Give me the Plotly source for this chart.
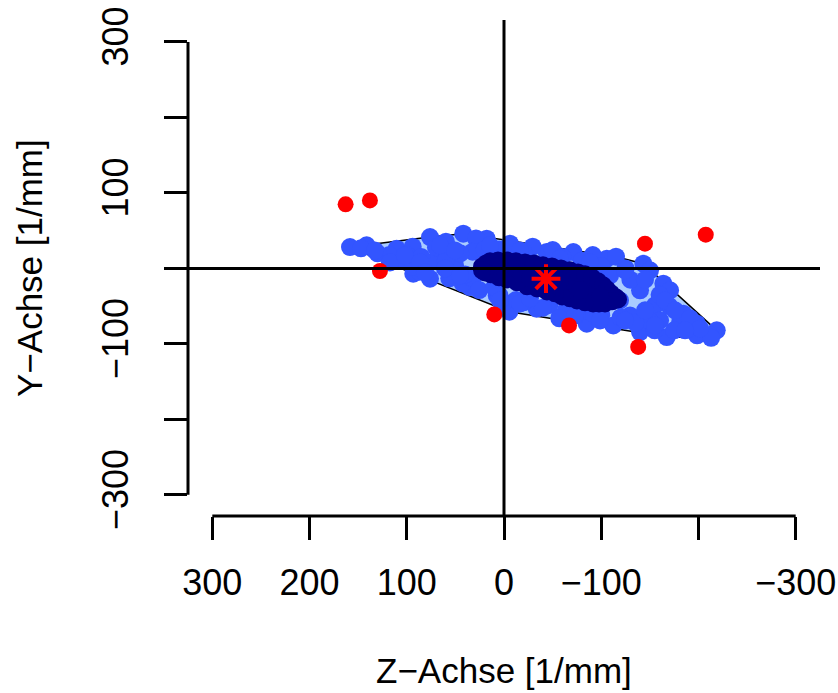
import plotly.graph_objects as go

# Bagplot of curvature components (Z vs Y), values in 1/mm

# points inside the bag (depth region)
bag_z = [22.6, 18.5, 14.4, 6.2, -3.1, -12.3, -21.6, -30.9, -40.1, -49.4,
         -58.6, -67.9, -76.1, -83.3, -90.5, -96.7, -101.9, -106.0, -110.1, -115.2,
         -117.3, -111.1, -103.9, -97.7, -91.6, -83.3, -75.1, -67.9, -59.7, -52.5,
         -44.2, -34.0, -23.7, -13.4, -3.1, 5.1, 13.4, 19.5, 22.6,
         -16.5, -47.3, -78.2, -98.8, -26.7, -57.6, -1.0]
bag_y = [2.6, 6.6, 9.3, 10.6, 10.6, 9.3, 7.9, 6.6, 4.0, 2.6,
         0.0, -2.6, -5.3, -7.9, -11.9, -17.2, -22.5, -27.8, -33.1, -38.4,
         -41.1, -43.7, -46.4, -46.4, -46.4, -45.0, -42.4, -39.7, -37.1, -33.1,
         -30.5, -26.5, -23.8, -18.5, -14.6, -11.9, -7.9, -5.3, -2.6,
         -5.3, -18.5, -29.1, -37.1, -13.2, -15.9, -2.6]

# points inside the fence but outside the bag
loop_z = [158.4, 141.3, 110.4, 76.1, 41.9, 17.8, -6.2, -43.9, -71.3, -105.7,
          -143.3, -163.9, -170.8, -184.5, -198.3, -218.8, -167.4, -139.9, -112.4, -85.1,
          -57.6, -33.6, -6.2, 7.5, 35.0, 76.1, 93.3, 147.1, 118.0, 104.2,
          93.9, 59.7, 87.1, 56.3, 42.5, 93.9, 28.8, -29.5, -50.1, -91.3,
          32.2, 32.2, 25.4, 4.8, -12.3, -46.6, -63.8, -91.3, -56.9, -5.5,
          -115.2, -139.9, -155.3, -129.6, -181.1, -211.9, -119.3, -160.5, -150.2, -198.6,
          65.8, 50.4, 76.1, -213.0,
          130.0, 100.0, 85.0, 70.0, 60.0, 45.0, 40.0, 20.0, 5.0, -20.0,
          -60.0, -80.0, -100.0, -125.0, -130.0, -145.0, -160.0, -170.0, -150.0, -175.0,
          -190.0, -120.0, -100.0, -75.0, -40.0, -20.0, 0.0, 10.0, -155.0, -135.0,
          -109.1, -124.5, -165.6, -175.9, -191.4, -145.1, -124.5, -98.8, -73.0, -155.3,
          -201.6, -186.2, 132.7, 117.3, 101.9, 86.4, 65.8, 50.4, 60.7, 81.3,
          45.3, 14.4, -16.5, -57.6, -88.5, 4.1, -16.5, -26.7]
loop_y = [28.2, 30.5, 26.1, 41.5, 46.0, 39.3, 32.7, 21.6, 21.6, 12.8,
          6.2, -20.3, -29.1, -60.0, -73.2, -82.1, -91.0, -84.4, -75.5, -73.2,
          -64.5, -53.4, -51.3, -35.8, -24.8, -13.6, -7.0, 26.5, 17.6, 11.0,
          28.7, 35.4, -4.4, -13.2, -19.9, 2.3, 39.7, 28.7, 24.2, 17.6,
          22.1, -13.2, -28.7, -35.4, -42.0, -48.6, -55.2, -59.6, -66.2, -57.4,
          15.5, -29.1, -49.0, -62.3, -71.5, -88.7, -42.4, -68.9, -2.6, -88.7,
          17.2, 4.0, 7.9, -92.0,
          20.0, 18.0, 15.0, 28.0, 10.0, 20.0, -8.0, 25.0, 25.0, 22.0,
          15.0, 10.0, 3.0, 0.0, -15.0, -15.0, -35.0, -50.0, -70.0, -82.0,
          -80.0, -65.0, -62.0, -62.0, -52.0, -45.0, -45.0, -25.0, -82.0, -72.0,
          -9.3, -2.6, -42.4, -55.6, -66.2, -55.6, -68.9, -68.9, -62.3, -75.5,
          -79.5, -82.1, 23.8, 7.9, 17.2, 7.9, 30.5, 23.8, 0.0, -5.3,
          -9.3, 30.5, 23.8, 13.2, 7.9, -42.4, -46.4, -39.7]

# outliers beyond the fence
out_z = [162.9, 137.9, 127.6, 10.0, -66.9, -138.0, -145.0, -207.5]
out_y = [84.8, 90.0, -3.5, -61.0, -75.5, -104.0, 32.7, 44.6]

# depth median
center_z = [-43.2]
center_y = [-13.6]

tick_vals = [300, 200, 100, 0, -100, -200, -300]
x_tick_text = ["300", "200", "100", "0", "\u2212100", "", "\u2212300"]
y_tick_vals = [-300, -200, -100, 0, 100, 200, 300]
y_tick_text = ["\u2212300", "", "\u2212100", "", "100", "", "300"]

X_RANGE = [325, -325]
Y_RANGE = [-328, 329]


def convex_hull(xs, ys):
    pts = sorted(set(zip(xs, ys)))

    def cross(o, a, b):
        return (a[0] - o[0]) * (b[1] - o[1]) - (a[1] - o[1]) * (b[0] - o[0])

    lower, upper = [], []
    for p in pts:
        while len(lower) >= 2 and cross(lower[-2], lower[-1], p) <= 0:
            lower.pop()
        lower.append(p)
    for p in reversed(pts):
        while len(upper) >= 2 and cross(upper[-2], upper[-1], p) <= 0:
            upper.pop()
        upper.append(p)
    hull = lower[:-1] + upper[:-1]
    hull.append(hull[0])
    return [p[0] for p in hull], [p[1] for p in hull]


loop_hx, loop_hy = convex_hull(loop_z + bag_z, loop_y + bag_y)
bag_hx, bag_hy = convex_hull(bag_z, bag_y)

fig = go.Figure()
# base layer: fence hull and the points between bag and fence
fig.add_trace(go.Scatter(x=loop_hx, y=loop_hy, mode="lines", fill="toself",
                         fillcolor="#AACCFF", line=dict(color="black", width=1.5),
                         hoverinfo="skip"))
fig.add_trace(go.Scatter(x=loop_z, y=loop_y, mode="markers",
                         marker=dict(color="#3355FF", size=18, line=dict(width=0))))
# overlay layer: bag, outliers and median drawn on top
fig.add_trace(go.Scatter(x=bag_hx, y=bag_hy, mode="lines", fill="toself",
                         fillcolor="#000088", line=dict(color="#000088", width=1),
                         hoverinfo="skip", xaxis="x2", yaxis="y2"))
fig.add_trace(go.Scatter(x=bag_z, y=bag_y, mode="markers", xaxis="x2", yaxis="y2",
                         marker=dict(color="#000088", size=18, line=dict(width=0))))
fig.add_trace(go.Scatter(x=out_z, y=out_y, mode="markers", xaxis="x2", yaxis="y2",
                         marker=dict(color="#FF0000", size=16, line=dict(width=0))))
fig.add_trace(go.Scatter(x=center_z, y=center_y, mode="markers", xaxis="x2", yaxis="y2",
                         marker=dict(symbol="asterisk-open", color="#FF0000", size=24,
                                     line=dict(color="#F0003C", width=4))))

font = dict(family="Liberation Sans, Arial, sans-serif", size=36, color="black")
title_font = dict(family="Liberation Sans, Arial, sans-serif", size=35, color="black")

shapes = [
    # detached axis lines
    dict(type="line", xref="x", yref="paper", x0=300, x1=-300, y0=0, y1=0,
         line=dict(color="black", width=3)),
    dict(type="line", xref="paper", yref="y", x0=0, x1=0, y0=-300, y1=300,
         line=dict(color="black", width=3)),
    # reference cross through the origin
    dict(type="line", xref="x", yref="paper", x0=0, x1=0, y0=0, y1=1,
         line=dict(color="black", width=3)),
    dict(type="line", xref="paper", yref="y", x0=0, x1=1, y0=0, y1=0,
         line=dict(color="black", width=3)),
]

fig.update_layout(
    width=838, height=693,
    margin=dict(l=188, r=18, t=20, b=177, autoexpand=False),
    paper_bgcolor="white", plot_bgcolor="white",
    showlegend=False,
    font=font,
    shapes=shapes,
    xaxis=dict(range=X_RANGE, showgrid=False, zeroline=False, showline=False,
               automargin=False,
               tickmode="array", tickvals=tick_vals, ticktext=x_tick_text,
               ticks="outside", ticklen=23, tickwidth=3, tickcolor="black",
               ticklabelstandoff=12, tickfont=font),
    yaxis=dict(range=Y_RANGE, showgrid=False, zeroline=False, showline=False,
               automargin=False,
               tickmode="array", tickvals=y_tick_vals, ticktext=y_tick_text,
               ticks="outside", ticklen=23, tickwidth=3, tickcolor="black",
               tickangle=-90, ticklabelstandoff=22, tickfont=font),
    xaxis2=dict(overlaying="x", range=X_RANGE, visible=False, automargin=False),
    yaxis2=dict(overlaying="y", range=Y_RANGE, visible=False, automargin=False),
    annotations=[
        dict(text="Z\u2212Achse [1/mm]", xref="paper", yref="paper", x=0.5, y=0,
             xanchor="center", yanchor="bottom", yshift=-176, showarrow=False,
             font=title_font),
        dict(text="Y\u2212Achse [1/mm]", xref="paper", yref="paper", x=0, y=0.5,
             xanchor="center", yanchor="middle", xshift=-159, textangle=-90,
             showarrow=False, font=title_font),
    ],
)

fig.write_html("out.html")
